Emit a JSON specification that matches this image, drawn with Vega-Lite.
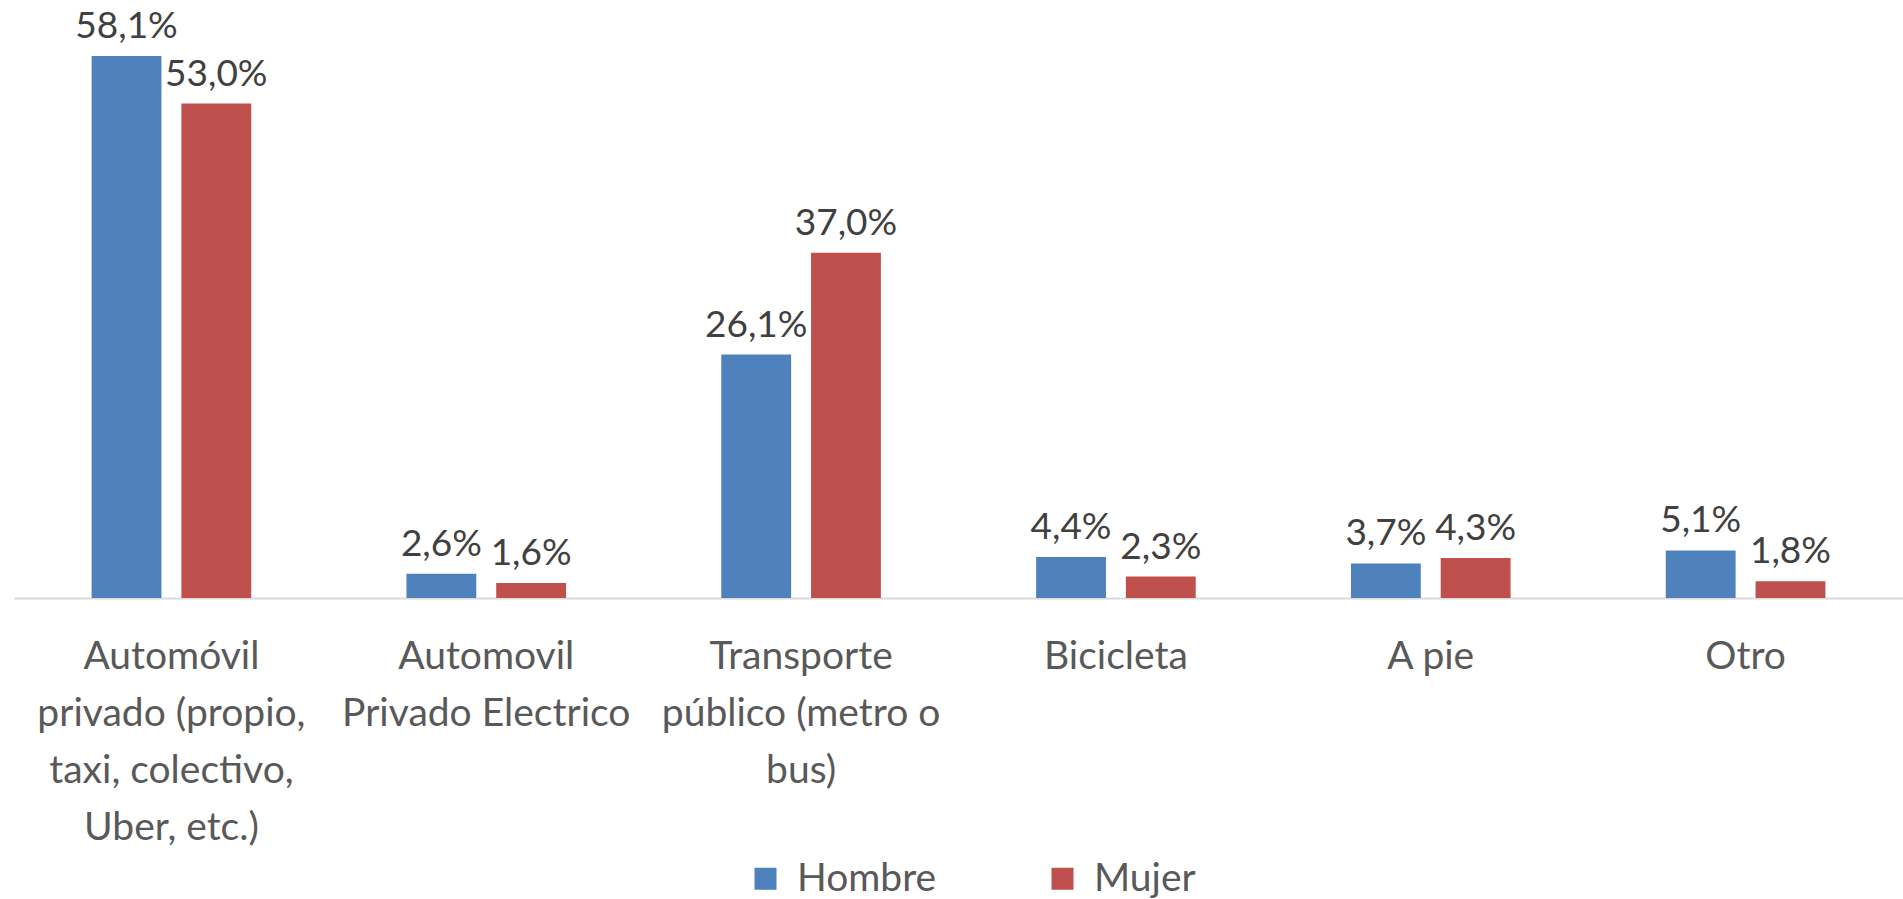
{
  "$schema": "https://vega.github.io/schema/vega-lite/v6.json",
  "width": 1889,
  "height": 598,
  "padding": {"left": 14, "right": 0, "top": 0, "bottom": 0},
  "background": "white",
  "config": {
    "view": {"stroke": null},
    "locale": {"number": {"decimal": ",", "thousands": ".", "grouping": [3], "currency": ["", " €"]}},
    "font": "Lato",
    "legend": {"padding": 0}
  },
  "data": {
    "values": [
      {"modo": "Automóvil|privado (propio,|taxi, colectivo,|Uber, etc.)", "sexo": "Hombre", "valor": 0.581},
      {"modo": "Automóvil|privado (propio,|taxi, colectivo,|Uber, etc.)", "sexo": "Mujer", "valor": 0.530},
      {"modo": "Automovil|Privado Electrico", "sexo": "Hombre", "valor": 0.026},
      {"modo": "Automovil|Privado Electrico", "sexo": "Mujer", "valor": 0.016},
      {"modo": "Transporte|público (metro o|bus)", "sexo": "Hombre", "valor": 0.261},
      {"modo": "Transporte|público (metro o|bus)", "sexo": "Mujer", "valor": 0.370},
      {"modo": "Bicicleta", "sexo": "Hombre", "valor": 0.044},
      {"modo": "Bicicleta", "sexo": "Mujer", "valor": 0.023},
      {"modo": "A pie", "sexo": "Hombre", "valor": 0.037},
      {"modo": "A pie", "sexo": "Mujer", "valor": 0.043},
      {"modo": "Otro", "sexo": "Hombre", "valor": 0.051},
      {"modo": "Otro", "sexo": "Mujer", "valor": 0.018}
    ]
  },
  "encoding": {
    "x": {
      "field": "modo", "type": "nominal", "sort": null, "title": null,
      "scale": {"paddingInner": 0.493, "paddingOuter": 0.2465},
      "axis": {
        "labelExpr": "split(datum.label, '|')",
        "labelAngle": 0, "labelFontSize": 39, "labelLineHeight": 57,
        "labelColor": "#595959", "labelPadding": 39, "labelLimit": 400,
        "ticks": false, "domainColor": "#d9d9d9", "domainWidth": 2,
        "labelFont": "Lato"
      }
    },
    "xOffset": {"field": "sexo", "type": "nominal", "scale": {"paddingInner": 0.222, "paddingOuter": 0}},
    "y": {"field": "valor", "type": "quantitative", "scale": {"domain": [0, 0.641]}, "axis": null}
  },
  "layer": [
    {
      "mark": {"type": "bar"},
      "encoding": {
        "color": {
          "field": "sexo", "type": "nominal", "title": null,
          "scale": {"domain": ["Hombre", "Mujer"], "range": ["#4F81BD", "#C0504D"]},
          "legend": {
            "orient": "none", "legendX": 732, "legendY": 859, "direction": "horizontal", "symbolType": "square",
            "symbolSize": 484, "symbolStrokeWidth": 0, "labelFontSize": 39, "labelColor": "#595959",
            "columnPadding": 106, "labelOffset": 12, "labelFont": "Lato", "symbolOpacity": 1
          }
        }
      }
    },
    {
      "mark": {"type": "text", "baseline": "alphabetic", "dy": -18, "fontSize": 37, "color": "#404040", "font": "Lato"},
      "encoding": {
        "text": {"field": "valor", "type": "quantitative", "format": ".1%"}
      }
    }
  ]
}
